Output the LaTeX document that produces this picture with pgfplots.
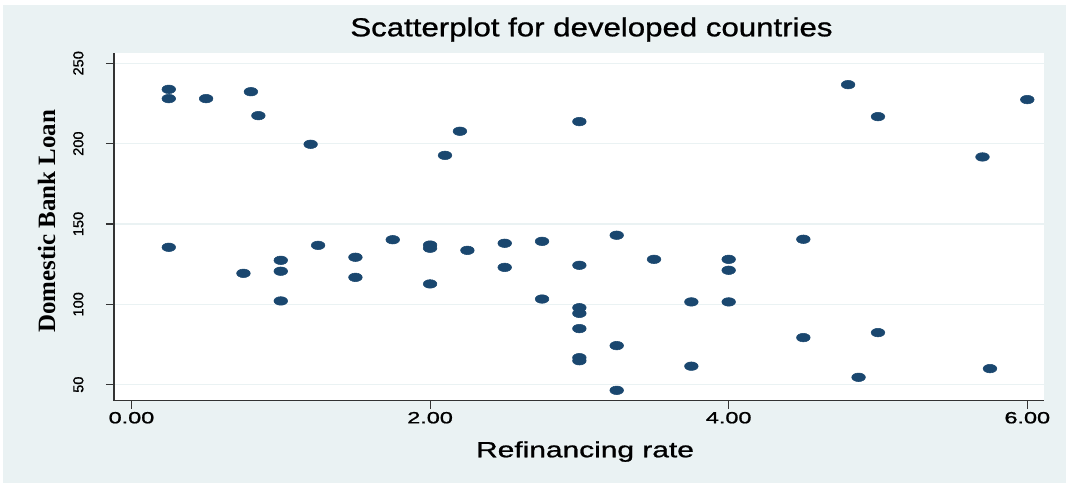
\documentclass[border=0pt]{standalone}
\usepackage{graphicx}
\usepackage{fontspec}
\setmainfont{Liberation Sans}
\newfontfamily\heavy[FakeBold=0.9]{Liberation Sans}
\newfontfamily\serifb{Liberation Serif}
\usepackage{pgfplots}
\pgfplotsset{compat=1.18}
\definecolor{bgc}{HTML}{EAF2F3}
\definecolor{gridc}{HTML}{EAF2F3}
\definecolor{navy}{HTML}{1A476F}
\begin{document}
\begin{tikzpicture}
\fill[white] (-85.5pt,-61.75pt) rectangle (714pt,300.5pt);
\fill[bgc] (-83.25pt,-61.75pt) rectangle (714pt,296.75pt);
\begin{axis}[
  at={(0,0)}, anchor=south west,
  scale only axis, width=697.5pt, height=261pt,
  xmin=-0.117, xmax=6.112, ymin=40.05, ymax=256.6,
  axis lines=left,
  axis line style={-, line width=0.8pt, color=black!80},
  axis background/.style={fill=white},
  tick align=outside, major tick length=6pt,
  tick style={black!80, line width=0.8pt},
  xtick={0,2,4,6},
  xticklabels={\scalebox{1.44}[1]{0.00},\scalebox{1.44}[1]{2.00},\scalebox{1.44}[1]{4.00},\scalebox{1.44}[1]{6.00}},
  ytick={50,100,150,200,250},
  yticklabels={50,100,150,200,250},
  xticklabel style={anchor=base, font=\heavy\fontsize{12.2}{14}\selectfont},
  yticklabel style={rotate=90, anchor=base, font=\heavy\fontsize{10.9}{12}\selectfont},
  xticklabel shift=11pt,
  yticklabel shift=17pt,
  ymajorgrids, grid style={color=gridc, line width=0.8pt},
  title={\scalebox{1.2}[1]{Scatterplot for developed countries}},
  title style={at={(axis description cs:0.5134,1.0241)}, anchor=base, font=\heavy\fontsize{19.5}{21}\selectfont},
  xlabel={\scalebox{1.36}[1]{Refinancing rate}},
  xlabel style={at={(axis description cs:0.5065,-0.1626)}, anchor=base, font=\heavy\fontsize{16.5}{18}\selectfont},
  ylabel={Domestic Bank Loan},
  ylabel style={at={(axis description cs:-0.0634,0.515)}, anchor=base, font=\serifb\bfseries\fontsize{18.7}{20}\selectfont},
]
\addplot[only marks, mark=*, mark size=3.2pt, mark options={xscale=1.6, fill=navy, draw=navy}] coordinates {
(0.25,233.8) (0.25,228) (0.5,228) (0.8,232.3) (0.85,217.4) (1.2,199.6)
(2.1,192.7) (2.2,207.7) (3.0,213.7) (4.8,236.7) (5.0,216.8) (6.0,227.4) (5.7,191.7)
(0.25,135.5) (0.75,119.3) (1.0,127.4) (1.0,120.6) (1.0,102.1) (1.25,136.7)
(1.5,129.3) (1.5,116.8) (1.75,140.2) (2.0,136.9) (2.0,134.9) (2.0,112.7)
(2.25,133.6) (2.5,138) (2.5,123) (2.75,139.2) (2.75,103.3)
(3.0,124.3) (3.0,97.9) (3.0,94.4) (3.0,84.9) (3.0,66.8) (3.0,64.9)
(3.25,143) (3.25,74.3) (3.25,46.5) (3.5,128) (3.75,101.5) (3.75,61.5)
(4.0,128) (4.0,121.2) (4.0,101.5) (4.5,140.5) (4.5,79.3) (5.0,82.4)
(4.87,54.6) (5.75,60)
};
\end{axis}
\end{tikzpicture}
\end{document}
